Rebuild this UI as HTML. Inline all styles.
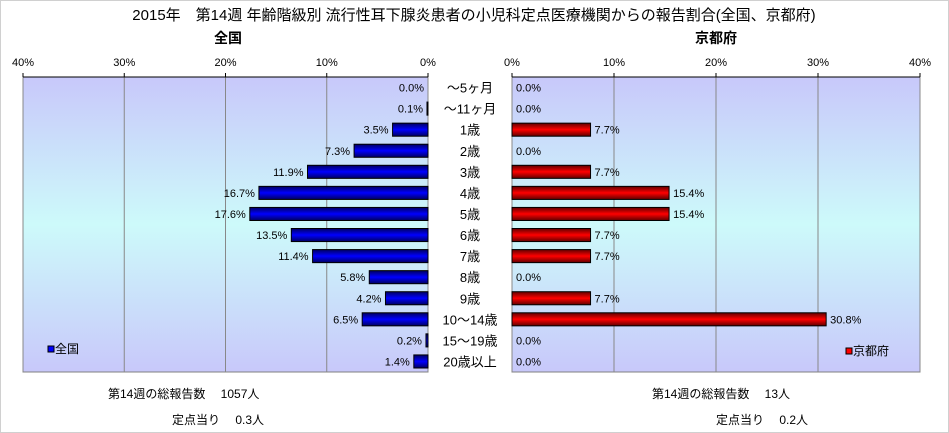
<!DOCTYPE html>
<html><head><meta charset="utf-8"><style>
body{margin:0;background:#fff;}
svg{display:block;font-family:"Liberation Sans","Noto Sans CJK JP",sans-serif;}
</style></head><body>
<svg width="949" height="433">
<defs>
<linearGradient id="bg" x1="0" y1="0" x2="0" y2="1">
<stop offset="0" stop-color="#c8c8fa"/><stop offset="0.5" stop-color="#cdfafa"/><stop offset="1" stop-color="#c8c8fa"/></linearGradient>
<linearGradient id="gb" x1="0" y1="0" x2="0" y2="1">
<stop offset="0" stop-color="#000060"/><stop offset="0.5" stop-color="#0000ff"/><stop offset="1" stop-color="#000060"/></linearGradient>
<linearGradient id="gr" x1="0" y1="0" x2="0" y2="1">
<stop offset="0" stop-color="#600000"/><stop offset="0.5" stop-color="#ff0000"/><stop offset="1" stop-color="#600000"/></linearGradient>
</defs>
<rect x="0.5" y="0.5" width="948" height="432" fill="#fff" stroke="#d0d0d0"/>
<text x="474" y="20" font-size="15" text-anchor="middle" fill="#000">2015年　第14週 年齢階級別 流行性耳下腺炎患者の小児科定点医療機関からの報告割合(全国、京都府)</text>
<text x="228" y="43" font-size="14" font-weight="bold" text-anchor="middle">全国</text>
<text x="716" y="43" font-size="14" font-weight="bold" text-anchor="middle">京都府</text>
<g id="g"></g>
<text x="108" y="398" font-size="12">第14週の総報告数　 1057人</text>
<text x="172" y="424" font-size="12">定点当り　 0.3人</text>
<text x="652" y="398" font-size="12">第14週の総報告数　 13人</text>
<text x="716" y="424" font-size="12">定点当り　 0.2人</text>
</svg>
<script>
const categories=["～5ヶ月","～11ヶ月","1歳","2歳","3歳","4歳","5歳","6歳","7歳","8歳","9歳","10～14歳","15～19歳","20歳以上"];
const nationalValues=[0.0,0.1,3.5,7.3,11.9,16.7,17.6,13.5,11.4,5.8,4.2,6.5,0.2,1.4];
const kyotoValues=[0.0,0.0,7.7,0.0,7.7,15.4,15.4,7.7,7.7,0.0,7.7,30.8,0.0,0.0];
const ticks=[0,10,20,30,40];
const NS="http://www.w3.org/2000/svg";
const g=document.getElementById('g');
const top0=77,bot0=372,rowH=(bot0-top0)/categories.length;
const xL=v=>428-v*405/40;
const xR=v=>512+v*408/40;
const y=i=>top0+i*rowH;
function mk(t,a,txt){const e=document.createElementNS(NS,t);for(const k in a)e.setAttribute(k,a[k]);if(txt!=null)e.textContent=txt;g.appendChild(e);return e;}
function panel(sx,x0,x1,vals,fill,side){
  const p=mk('rect',{x:Math.min(x0,x1),y:top0,width:Math.abs(x1-x0),height:bot0-top0,fill:'url(#bg)',stroke:'#808080'});
  
  
  ticks.forEach(t=>{
    const X=sx(t);
    const l=mk('line',{x1:X,x2:X,y1:top0,y2:bot0,stroke:'#888'});
    
    
    const tk=mk('line',{x1:X,x2:X,y1:top0-4,y2:top0,stroke:'#000'});
    
    
    const tl=mk('text',{x:X,y:66,'font-size':11,'text-anchor':'middle'},t+'%');
    
    
  });
  mk('line',{x1:Math.min(x0,x1),x2:Math.max(x0,x1),y1:top0,y2:top0,stroke:'#000'});
  vals.forEach((v,i)=>{
    const a=sx(0),b=sx(v);
    if(v>0){
      const r=mk('rect',{x:Math.min(a,b),y:y(i)+4,width:Math.abs(b-a),height:rowH-8,fill:fill,stroke:'#000'});
      
      
    }
    const lab=mk('text',{x:side==='national'?b-4:b+4,y:y(i)+rowH/2+4,'font-size':11,'text-anchor':side==='national'?'end':'start'},v.toFixed(1)+'%');
    
    
  });
}
panel(xL,23,428,nationalValues,'url(#gb)','national');
panel(xR,512,920,kyotoValues,'url(#gr)','kyoto');
categories.forEach((c,i)=>{
  const t=mk('text',{x:470,y:y(i)+rowH/2+5,'font-size':13,'text-anchor':'middle'},c);
  
  
});
const l1=mk('rect',{x:48,y:346,width:6,height:6,fill:'#0000ff',stroke:'#000'});


const l1t=mk('text',{x:55,y:353,'font-size':12},'全国');


const l2=mk('rect',{x:846,y:348,width:6,height:6,fill:'#ff0000',stroke:'#000'});


const l2t=mk('text',{x:853,y:355,'font-size':12},'京都府');


</script>
</body></html>
